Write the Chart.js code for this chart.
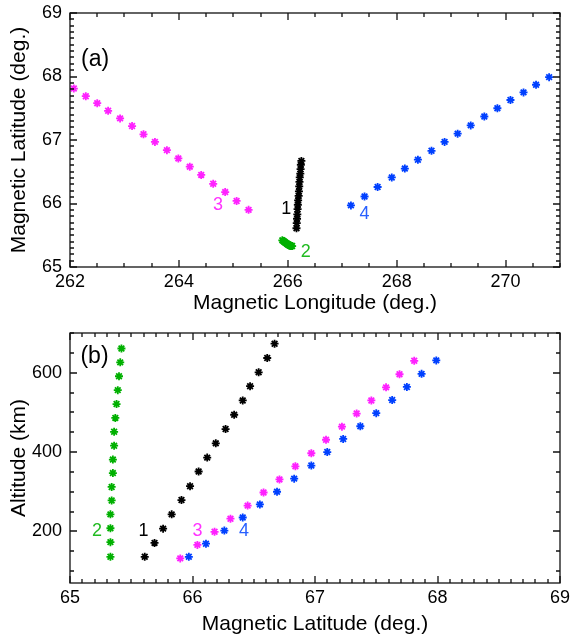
<!DOCTYPE html>
<html>
<head>
<meta charset="utf-8">
<script src="https://cdn.jsdelivr.net/npm/chart.js@4.4.0/dist/chart.umd.min.js"></script>
<style>
  body { margin: 0; background: #fff; }
  #wrap { position: relative; width: 570px; height: 641px; }
  canvas { position: absolute; left: 0; }
  #chartA { top: 0; }
  #chartB { top: 320px; }
</style>
</head>
<body>
<div id="wrap">
  <canvas id="chartA" width="570" height="320"></canvas>
  <canvas id="chartB" width="570" height="321"></canvas>
</div>
<script>
// Track 1 (black)
const lat1 = [65.61, 65.69, 65.76, 65.83, 65.91, 65.98, 66.05, 66.12, 66.19, 66.27, 66.34, 66.41, 66.47, 66.54, 66.61, 66.67];
const lon1 = [266.16, 266.165, 266.17, 266.175, 266.18, 266.185, 266.19, 266.20, 266.205, 266.21, 266.215, 266.22, 266.23, 266.235, 266.24, 266.25];
const alt1 = [136, 171, 207, 243, 279, 314, 351, 386, 422, 458, 494, 530, 566, 601, 637, 673];

// Track 2 (green)
const lat2 = [65.33, 65.33, 65.33, 65.33, 65.34, 65.34, 65.35, 65.35, 65.36, 65.36, 65.37, 65.38, 65.39, 65.40, 65.41, 65.42];
const lon2 = [266.08, 266.07, 266.06, 266.05, 266.04, 266.03, 266.02, 266.01, 266.00, 265.99, 265.98, 265.96, 265.95, 265.93, 265.92, 265.90];
const alt2 = [136, 173, 208, 243, 278, 312, 347, 381, 416, 451, 486, 521, 556, 591, 626, 661];

// Track 3 (magenta)
const lat3 = [65.90, 66.04, 66.18, 66.31, 66.45, 66.58, 66.71, 66.84, 66.97, 67.09, 67.22, 67.34, 67.46, 67.58, 67.69, 67.81];
const lon3 = [265.28, 265.06, 264.85, 264.63, 264.41, 264.20, 263.99, 263.78, 263.56, 263.35, 263.14, 262.92, 262.70, 262.50, 262.29, 262.07];
const alt3 = [132, 166, 199, 232, 265, 298, 331, 364, 397, 431, 464, 497, 530, 563, 596, 630];

// Track 4 (blue)
const lat4 = [65.97, 66.11, 66.26, 66.41, 66.55, 66.69, 66.83, 66.97, 67.10, 67.23, 67.37, 67.50, 67.63, 67.75, 67.87, 67.99];
const lon4 = [267.16, 267.41, 267.65, 267.91, 268.15, 268.39, 268.64, 268.88, 269.12, 269.36, 269.61, 269.85, 270.09, 270.33, 270.56, 270.80];
const alt4 = [136, 169, 202, 235, 268, 300, 333, 366, 400, 433, 465, 498, 531, 564, 597, 631];

// Tick labels
const lonTicks = [262, 264, 266, 268, 270];
const latTicksA = [65, 66, 67, 68, 69];
const latTicksB = [65, 66, 67, 68, 69];
const altTicks = [200, 400, 600];

const colors = { 1: '#000000', 2: '#00b000', 3: '#ff22ff', 4: '#0040ff' };
const labelColors = { 1: '#000000', 2: '#22bb22', 3: '#ff33ff', 4: '#2860ff' };

Chart.defaults.font.family = "'Liberation Sans', Arial, Helvetica, sans-serif";
Chart.defaults.color = '#000';

function pts(xs, ys) {
    return xs.map((x, i) => ({ x: x, y: ys[i] }));
}

function track(data, n) {
    return {
        data: data,
        pointStyle: 'star',
        pointRadius: 4,
        borderWidth: 1.8,
        borderColor: colors[n],
        backgroundColor: colors[n],
        showLine: false
    };
}

// IDL-style frame with inward ticks on all four sides
function frameTicks(cfg) {
    return {
        id: 'frameTicks',
        afterDatasetsDraw(chart) {
            const { ctx, chartArea: a, scales } = chart;
            const L = Math.round(a.left), R = Math.round(a.right), T = Math.round(a.top), B = Math.round(a.bottom);
            ctx.save();
            ctx.strokeStyle = '#111';
            ctx.lineWidth = 1.3;
            ctx.strokeRect(L, T, R - L, B - T);
            ctx.beginPath();
            ['x', 'y'].forEach(k => {
                const s = scales[k];
                const minor = cfg[k].minor, major = cfg[k].major;
                const n0 = Math.ceil(s.min / minor - 1e-6);
                const n1 = Math.floor(s.max / minor + 1e-6);
                for (let n = n0; n <= n1; n++) {
                    const v = n * minor;
                    const isMajor = Math.abs(v / major - Math.round(v / major)) < 1e-4;
                    const len = isMajor ? 7 : 4;
                    const p = Math.round(s.getPixelForValue(v));
                    if (k === 'x') {
                        ctx.moveTo(p, B); ctx.lineTo(p, B - len);
                        ctx.moveTo(p, T); ctx.lineTo(p, T + len);
                    } else {
                        ctx.moveTo(L, p); ctx.lineTo(L + len, p);
                        ctx.moveTo(R, p); ctx.lineTo(R - len, p);
                    }
                }
            });
            ctx.stroke();
            ctx.restore();
        }
    };
}

// Text annotations placed in data coordinates
function textLabels(items) {
    return {
        id: 'textLabels',
        afterDatasetsDraw(chart) {
            const { ctx, scales: { x, y } } = chart;
            ctx.save();
            ctx.textAlign = 'center';
            ctx.textBaseline = 'middle';
            items.forEach(it => {
                ctx.font = it.size + "px 'Liberation Sans', Arial, sans-serif";
                ctx.fillStyle = it.color;
                ctx.fillText(it.text, x.getPixelForValue(it.x), y.getPixelForValue(it.y));
            });
            ctx.restore();
        }
    };
}

function axis(min, max, tickVals, title, fit) {
    return {
        type: 'linear',
        min: min,
        max: max,
        grid: { display: false, drawTicks: false },
        border: { display: false },
        afterBuildTicks: s => { s.ticks = tickVals.map(v => ({ value: v })); },
        afterFit: s => {
            fit(s);
            // keep label overhang from moving the plot frame
            s.paddingTop = 0; s.paddingBottom = 0;
            s.paddingLeft = 0; s.paddingRight = 0;
        },
        ticks: { autoSkip: false, maxRotation: 0, color: '#000', font: { size: 18 } },
        title: { display: true, text: title, color: '#000', font: { size: 21 } }
    };
}

function baseOptions() {
    return {
        responsive: false,
        animation: false,
        devicePixelRatio: 1,
        layout: { padding: { left: 0, right: 10, top: 13, bottom: 0 } },
        plugins: { legend: { display: false }, tooltip: { enabled: false } }
    };
}

// Panel (a)
const optsA = baseOptions();
optsA.scales = {
    x: axis(262, 271, lonTicks, 'Magnetic Longitude (deg.)', s => { s.height = 53; }),
    y: axis(65, 69, latTicksA, 'Magnetic Latitude (deg.)', s => { s.width = 70; })
};
optsA.scales.x.ticks.padding = 4;
optsA.scales.x.title.padding = { top: 0, bottom: 4 };
optsA.scales.y.ticks.padding = 8;
optsA.scales.y.title.padding = { top: 7, bottom: 0 };

new Chart(document.getElementById('chartA'), {
    type: 'scatter',
    data: {
        datasets: [
            track(pts(lon3, lat3), 3),
            track(pts(lon4, lat4), 4),
            track(pts(lon2, lat2), 2),
            track(pts(lon1, lat1), 1)
        ]
    },
    options: optsA,
    plugins: [
        frameTicks({ x: { minor: 0.5, major: 2 }, y: { minor: 0.1, major: 1 } }),
        textLabels([
            { text: '(a)', x: 262.46, y: 68.27, size: 23, color: '#000' },
            { text: '1', x: 265.97, y: 65.92, size: 18, color: labelColors[1] },
            { text: '2', x: 266.33, y: 65.24, size: 18, color: labelColors[2] },
            { text: '3', x: 264.72, y: 65.98, size: 18, color: labelColors[3] },
            { text: '4', x: 267.41, y: 65.83, size: 18, color: labelColors[4] }
        ])
    ]
});

// Panel (b)
const optsB = baseOptions();
optsB.scales = {
    x: axis(65, 69, latTicksB, 'Magnetic Latitude (deg.)', s => { s.height = 58; }),
    y: axis(70, 700, altTicks, 'Altitude (km)', s => { s.width = 70; })
};
optsB.scales.x.ticks.padding = 4;
optsB.scales.x.title.padding = { top: 0, bottom: 4 };
optsB.scales.y.ticks.padding = 8;
optsB.scales.y.title.padding = { top: 7, bottom: 0 };

new Chart(document.getElementById('chartB'), {
    type: 'scatter',
    data: {
        datasets: [
            track(pts(lat2, alt2), 2),
            track(pts(lat1, alt1), 1),
            track(pts(lat3, alt3), 3),
            track(pts(lat4, alt4), 4)
        ]
    },
    options: optsB,
    plugins: [
        frameTicks({ x: { minor: 0.1, major: 1 }, y: { minor: 50, major: 200 } }),
        textLabels([
            { text: '(b)', x: 65.20, y: 641, size: 23, color: '#000' },
            { text: '2', x: 65.22, y: 202, size: 18, color: labelColors[2] },
            { text: '1', x: 65.60, y: 202, size: 18, color: labelColors[1] },
            { text: '3', x: 66.04, y: 202, size: 18, color: labelColors[3] },
            { text: '4', x: 66.42, y: 202, size: 18, color: labelColors[4] }
        ])
    ]
});
</script>
</body>
</html>
